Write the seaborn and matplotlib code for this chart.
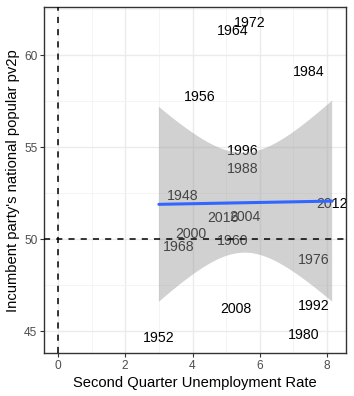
import matplotlib
matplotlib.use("Agg")
import matplotlib.pyplot as plt
import seaborn as sns
import pandas as pd
import numpy as np
from matplotlib.ticker import MultipleLocator

years = [1948, 1952, 1956, 1960, 1964, 1968, 1972, 1976, 1980, 1984,
         1988, 1992, 1996, 2000, 2004, 2008, 2012, 2016]
unemp = [3.7, 3.0, 4.2, 5.2, 5.2, 3.6, 5.7, 7.6, 7.3, 7.45,
         5.5, 7.6, 5.5, 3.95, 5.55, 5.3, 8.15, 4.9]
pv2p = [52.32, 44.65, 57.72, 49.88, 61.3, 49.55, 61.75, 48.86, 44.78, 59.08,
        53.8, 46.37, 54.76, 50.25, 51.2, 46.2, 51.93, 51.12]

df = pd.DataFrame({"year": years, "unemp": unemp, "pv2p": pv2p})

sns.set_style("white")
plt.rcParams['font.family'] = ['Liberation Sans', 'DejaVu Sans']

fig = plt.figure(figsize=(3.54, 3.96), dpi=100)
ax = fig.add_axes([0.125, 0.108, 0.852, 0.874])

# grid (theme_bw)
ax.set_axisbelow(True)
ax.xaxis.set_major_locator(MultipleLocator(2))
ax.xaxis.set_minor_locator(MultipleLocator(1))
ax.yaxis.set_major_locator(MultipleLocator(5))
ax.yaxis.set_minor_locator(MultipleLocator(2.5))
ax.grid(which='major', color='#EBEBEB', lw=1.0, zorder=0)
ax.grid(which='minor', color='#F2F2F2', lw=0.6, zorder=0)

# labels (drawn under the smoothing band)
for _, r in df.iterrows():
    ax.text(r["unemp"], r["pv2p"], str(int(r["year"])), ha='center', va='center',
            fontsize=10.2, color='black', zorder=2)

# linear fit with analytic 95% confidence band (like geom_smooth(method='lm'))
x = np.asarray(unemp, float)
y = np.asarray(pv2p, float)
n = len(x)
b1, b0 = np.polyfit(x, y, 1)
resid = y - (b0 + b1 * x)
s = np.sqrt(np.sum(resid ** 2) / (n - 2))
grid = np.linspace(x.min(), x.max(), 80)
se = s * np.sqrt(1.0 / n + (grid - x.mean()) ** 2 / np.sum((x - x.mean()) ** 2))
tcrit = 2.1199  # t(0.975, df=16)
ax.fill_between(grid, b0 + b1 * grid - tcrit * se, b0 + b1 * grid + tcrit * se,
                facecolor='#999999', alpha=0.45, edgecolor='none', zorder=3)

sns.regplot(data=df, x="unemp", y="pv2p", scatter=False, ci=None,
            color='#3366FF', line_kws=dict(lw=2.2, zorder=4), ax=ax)

ax.axvline(0, color='black', ls=(0, (4, 4)), lw=1.1, zorder=5)
ax.axhline(50, color='black', ls=(0, (4, 4)), lw=1.1, zorder=5)

xr = (0, max(unemp))
ylo, yhi = min(pv2p), max(pv2p)
dx = (xr[1] - xr[0]) * 0.05
dy = (yhi - ylo) * 0.05
ax.set_xlim(xr[0] - dx, xr[1] + dx)
ax.set_ylim(ylo - dy, yhi + dy)
ax.set_xticks([0, 2, 4, 6, 8])
ax.set_yticks([45, 50, 55, 60])

ax.set_xlabel("Second Quarter Unemployment Rate", fontsize=10.6, color='black', labelpad=3)
ax.set_ylabel("Incumbent party's national popular pv2p", fontsize=10.6, color='black', labelpad=3)
ax.tick_params(axis='both', which='major', labelsize=8.6, labelcolor='#4D4D4D',
               color='#333333', length=3, width=0.8, direction='out', pad=2,
               bottom=True, left=True)
ax.tick_params(which='minor', length=0)
for sp in ax.spines.values():
    sp.set_color('#333333')
    sp.set_linewidth(1.0)
    sp.set_visible(True)

fig.savefig("out.png", dpi=100)
